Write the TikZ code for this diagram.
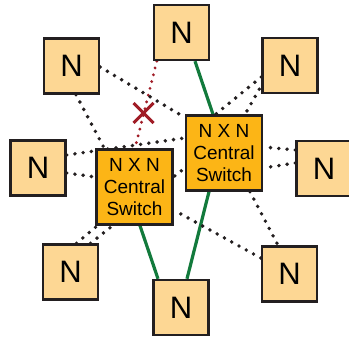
\documentclass[tikz,border=0pt]{standalone}
\usepackage{fontspec}
\setmainfont{Liberation Sans}
\usetikzlibrary{calc,backgrounds}
\definecolor{nfill}{RGB}{253,215,148}
\definecolor{sfill}{RGB}{252,181,22}
\definecolor{bord}{RGB}{35,31,32}
\definecolor{lgreen}{RGB}{18,122,60}
\definecolor{lred}{RGB}{160,28,38}
\begin{document}
\begin{tikzpicture}[x=1pt,y=-1pt,
  nbox/.style={draw=bord,line width=2.4pt,fill=nfill,minimum width=55pt,minimum height=55pt,inner sep=0pt,font=\fontsize{31}{31}\selectfont},
  sbox/.style={draw=bord,line width=2.4pt,fill=sfill,minimum width=76pt,minimum height=75pt,inner sep=0pt,align=center,font=\fontsize{19}{22}\selectfont},
  dotline/.style={draw=bord,line width=3.9pt,line cap=round,dash pattern=on 0pt off 8.3pt},
  redline/.style={draw=lred,line width=3.2pt,line cap=round,dash pattern=on 0pt off 7pt},
  greenline/.style={draw=lgreen,line width=3.2pt},
  xmark/.style={draw=lred,line width=3pt}]
\useasboundingbox (0,0) rectangle (349,340);
\node[nbox] (nT) at (181.5,32.5) {N};
\node[nbox] (nTL) at (71.5,66) {N};
\node[nbox] (nTR) at (290,65.5) {N};
\node[nbox] (nL) at (38,168) {N};
\node[nbox] (nR) at (324,168.5) {N};
\node[nbox] (nBL) at (70.5,272) {N};
\node[nbox] (nBR) at (289.5,274) {N};
\node[nbox] (nB) at (181,307.5) {N};
\node[sbox] (sL) at (134.5,187) {N X N\\Central\\Switch};
\node[sbox] (sR) at (224,153) {N X N\\Central\\Switch};
\coordinate (xm) at (143.5,113);
\begin{pgfonlayer}{background}
  % green links
  \draw[greenline] ($(nT.south)+(13.5,0)$) -- ($(sR.north)+(-11,0)$);
  \draw[greenline] ($(sR.south)+(-15,0)$) -- ($(nB.north)+(6,0)$);
  \draw[greenline] ($(sL.south)+(5.5,0)$) -- ($(nB.north)+(-23,0)$);
  % broken red link
  \draw[redline] ($(nT.south west)+(4,0)$) -- ($(sL.north)+(0.5,0)$);
  % dotted links
  \draw[dotline] ($(nTL.east)+(0,1)$) -- ($(sR.north west)+(-2,2)$);
  \draw[dotline] ($(nTL.south)+(4.5,0)$) -- ($(sL.north west)+(9,0)$);
  \draw[dotline] ($(nTR.west)+(0,11.5)$) -- ($(sR.center)+(-24,-26)$);
  \draw[dotline] ($(nTR.south west)+(-2,-5)$) -- ($(sR.north)+(21,0)$);
  \draw[dotline] ($(nL.east)+(0,-13)$) -- ($(sR.west)+(0,-15)$);
  \draw[dotline] ($(nL.east)+(0,5)$) -- ($(sL.west)+(0,-10)$);
  \draw[dotline] ($(nR.west)+(0,-18.5)$) -- ($(sR.east)+(0,-6)$);
  \draw[dotline] ($(nR.west)+(0,-5.5)$) -- ($(sR.east)+(0,15)$);
  \draw[dotline] ($(nBL.north)+(6,0)$) -- ($(sL.south west)+(2,0)$);
  \draw[dotline] ($(nBL.north)+(20,0)$) -- ($(sR.west)+(0,15)$);
  \draw[dotline] ($(nBR.west)+(0,-16)$) -- ($(sL.east)+(0,23)$);
  \draw[dotline] ($(sR.south)+(26,0)$) -- ($(nBR.north)+(-11.5,0)$);
\end{pgfonlayer}
\draw[xmark] ($(xm)+(-10,-10)$) -- ($(xm)+(10,10)$);
\draw[xmark] ($(xm)+(-10,10)$) -- ($(xm)+(10,-10)$);
\end{tikzpicture}
\end{document}
